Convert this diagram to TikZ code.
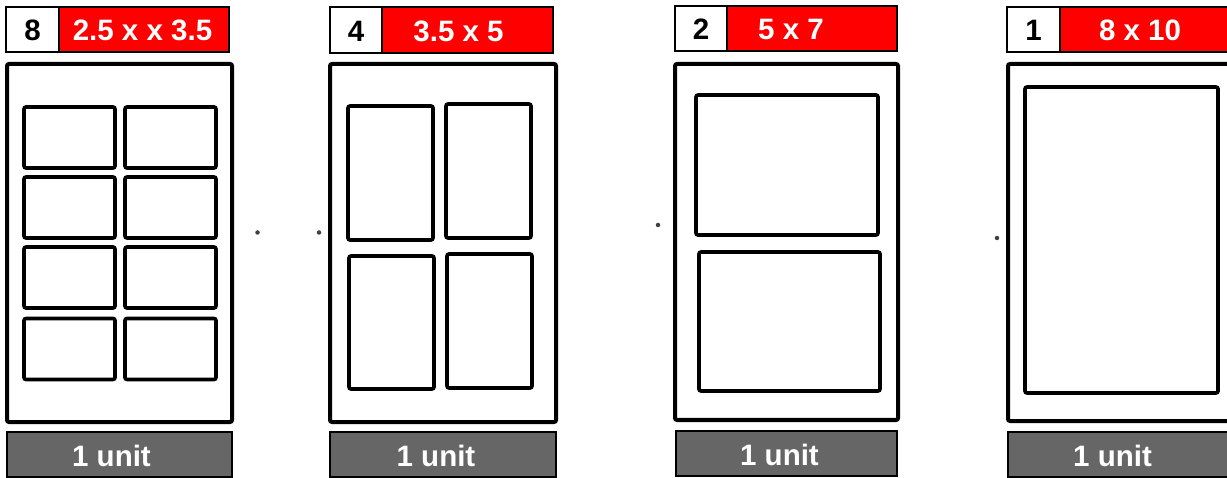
\documentclass[tikz,border=0pt]{standalone}
\usepackage{fontspec}
\setmainfont{Liberation Sans}
\definecolor{hdrred}{HTML}{FF0000}
\definecolor{unitgray}{HTML}{666666}
\begin{document}
\begin{tikzpicture}[x=1pt,y=-1pt,
  numbox/.style={draw=black, line width=2pt, fill=white, inner sep=0pt},
  sizebox/.style={draw=black, line width=2pt, fill=hdrred, inner sep=0pt},
  frame/.style={draw=black, line width=4pt, rounded corners=2pt, fill=white, inner sep=0pt},
  photo/.style={draw=black, line width=3.6pt, rounded corners=2pt, inner sep=0pt},
  unitbar/.style={draw=black, line width=2pt, fill=unitgray, inner sep=0pt},
  numtxt/.style={font=\fontsize{29.5}{32}\selectfont\bfseries, text=black, inner sep=0pt},
  sizetxt/.style={font=\fontsize{29.5}{32}\selectfont\bfseries, text=white, inner sep=0pt},
  unittxt/.style={font=\fontsize{29.5}{32}\selectfont\bfseries, text=white, inner sep=0pt},
  dot/.style={circle, fill=black!75, inner sep=0pt, minimum size=4.5pt}]
\useasboundingbox[fill=white] (0,0) rectangle (1227,478);
\clip (0,0) rectangle (1227,478);
% ---------- panel 1 ----------
\node[numbox, minimum width=53pt, minimum height=45pt] (n1) at (32.5,29.5) {};
\node[sizebox, minimum width=170pt, minimum height=45pt] (s1) at (144,29.5) {};
\node[numtxt] (n1t) at (32.5,30.5) {8};
\node[sizetxt] (s1t) at (142.5,30.5) {2.5 x x 3.5};
\node[frame, minimum width=225pt, minimum height=358pt] (f1) at (119.5,243) {};
\foreach \cx [count=\i] in {69.5,170.5}{
  \foreach \cy [count=\j] in {137.5,207.5,277.5,349}{
    \node[photo, minimum width=91pt, minimum height=61pt] (p1-\i-\j) at (\cx,\cy) {};
  }}
\node[unitbar, minimum width=225pt, minimum height=45pt] (u1) at (119.5,454.5) {};
\node[unittxt] (u1t) at (111.5,455.5) {1 unit};
% ---------- panel 2 ----------
\node[numbox, minimum width=52pt, minimum height=46pt] (n2) at (356,30) {};
\node[sizebox, minimum width=171pt, minimum height=46pt] (s2) at (467.5,30) {};
\node[numtxt] (n2t) at (356,31) {4};
\node[sizetxt] (s2t) at (458.5,31) {3.5 x 5};
\node[frame, minimum width=226pt, minimum height=358pt] (f2) at (443,243) {};
\node[photo, minimum width=85pt, minimum height=134pt] (p2a) at (390.5,173) {};
\node[photo, minimum width=85pt, minimum height=134pt] (p2b) at (488.5,171) {};
\node[photo, minimum width=85pt, minimum height=133pt] (p2c) at (391.5,322.5) {};
\node[photo, minimum width=85pt, minimum height=134pt] (p2d) at (489.5,321) {};
\node[unitbar, minimum width=226pt, minimum height=45pt] (u2) at (443,454.5) {};
\node[unittxt] (u2t) at (436,455.5) {1 unit};
% ---------- panel 3 ----------
\node[numbox, minimum width=52pt, minimum height=45pt] (n3) at (701,28.5) {};
\node[sizebox, minimum width=170pt, minimum height=45pt] (s3) at (812,28.5) {};
\node[numtxt] (n3t) at (701,29.5) {2};
\node[sizetxt] (s3t) at (791,29.5) {5 x 7};
\node[frame, minimum width=223pt, minimum height=356pt] (f3) at (786.5,242) {};
\node[photo, minimum width=182pt, minimum height=140pt] (p3a) at (787,165) {};
\node[photo, minimum width=181pt, minimum height=139pt] (p3b) at (789.5,321.5) {};
\node[unitbar, minimum width=221pt, minimum height=45pt] (u3) at (786.5,453.5) {};
\node[unittxt] (u3t) at (779.5,454.5) {1 unit};
% ---------- panel 4 ----------
\node[numbox, minimum width=53pt, minimum height=45pt] (n4) at (1033.5,29.5) {};
\node[sizebox, minimum width=176pt, minimum height=45pt] (s4) at (1148,29.5) {};
\node[numtxt] (n4t) at (1033.5,30.5) {1};
\node[sizetxt] (s4t) at (1140,30.5) {8 x 10};
\node[frame, minimum width=228pt, minimum height=357pt] (f4) at (1122,242.5) {};
\node[photo, minimum width=193pt, minimum height=306pt] (p4) at (1121.5,240) {};
\node[unitbar, minimum width=228pt, minimum height=45pt] (u4) at (1122,454.5) {};
\node[unittxt] (u4t) at (1112.5,455.5) {1 unit};
% ---------- dots ----------
\node[dot] (d1) at (257.5,232.5) {};
\node[dot] (d2) at (319,232.5) {};
\node[dot] (d3) at (658,225) {};
\node[dot] (d4) at (997,238) {};
\end{tikzpicture}
\end{document}
